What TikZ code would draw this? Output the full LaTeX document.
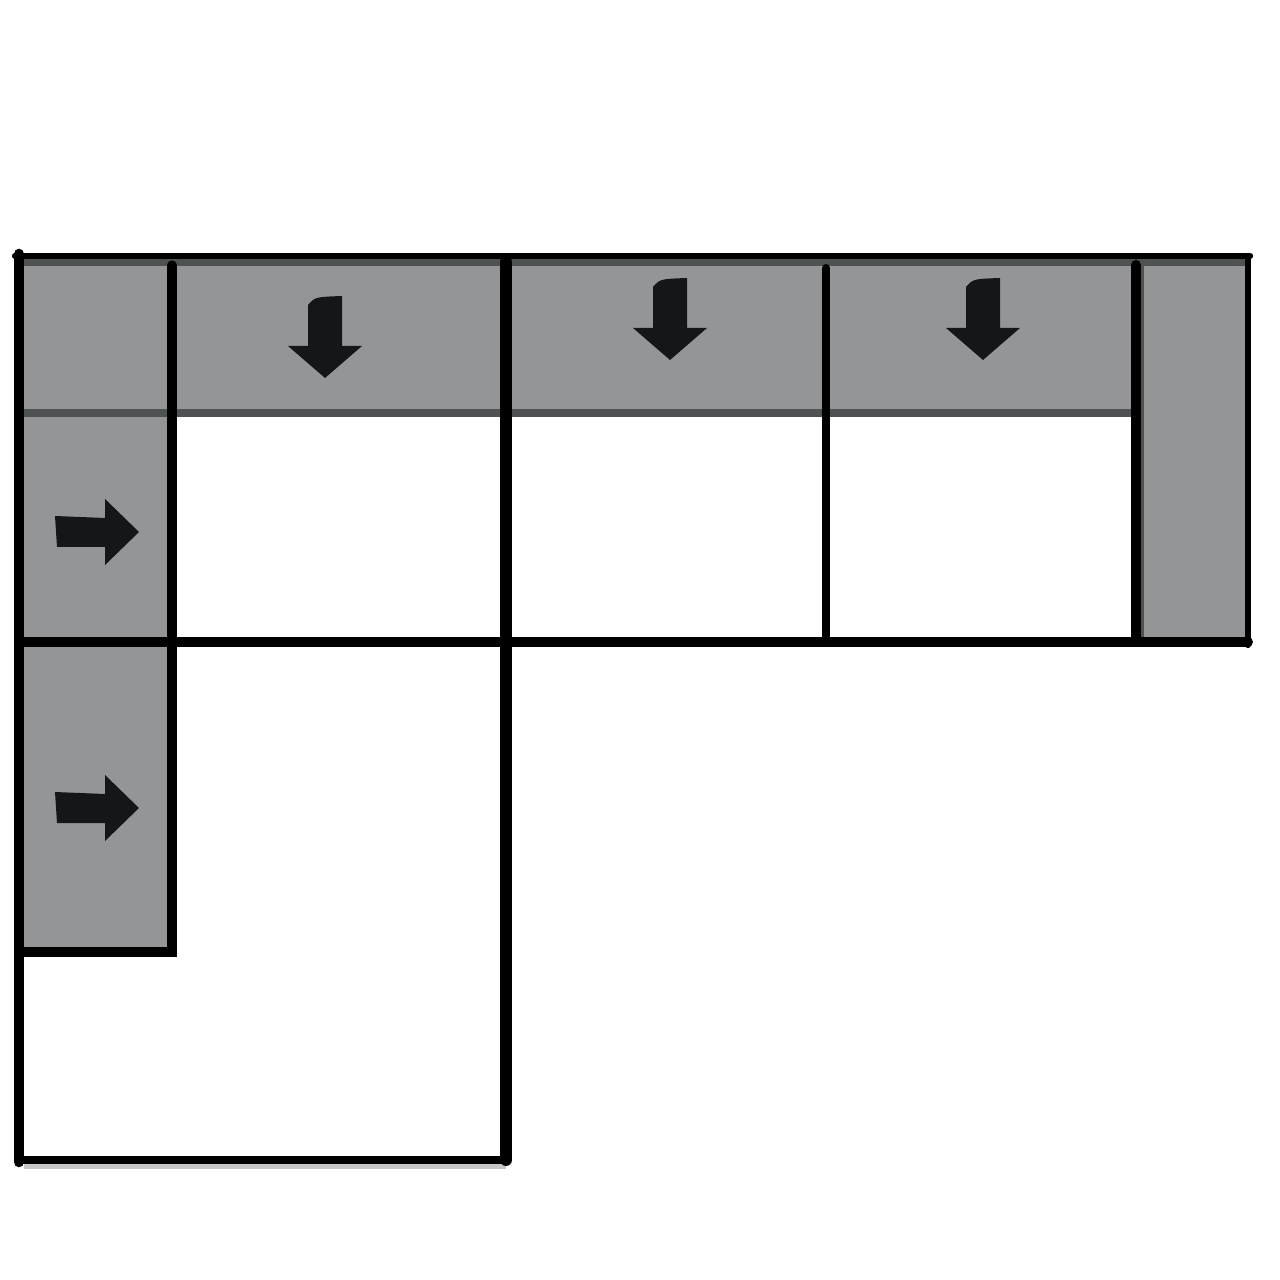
\documentclass[tikz,border=0pt]{standalone}
\usetikzlibrary{positioning}
\definecolor{seatgray}{HTML}{939596}
\definecolor{seamgray}{HTML}{4F5252}
\definecolor{arrowblack}{HTML}{141618}
\begin{document}
\begin{tikzpicture}[
  x=0.01cm, y=-0.01cm,
  SeatFill/.style = {fill=seatgray},
  SeamLine/.style = {draw=seamgray, line width=2pt},
  FrameLine/.style = {draw=black, line width=#1, line cap=round},
  FrameLine/.default = 2.8pt
  ]
  \useasboundingbox (0,0) rectangle (1280,1280);

  \tikzset{ArrowDown/.pic = {\fill[arrowblack] (-17,-33) .. controls (-10,-41) .. (17,-42)
    -- (17,8) -- (37,8) -- (0,40) -- (-37,8) -- (-17,8) -- cycle;}}
  \tikzset{ArrowRight/.pic = {\fill[arrowblack] (-42,-16) -- (8,-14) -- (8,-33) -- (42,0)
    -- (8,33) -- (8,15) -- (-40,15) -- cycle;}}

  \fill[SeatFill] (20,257) rectangle (172,952);
  \fill[SeatFill] (172,257) rectangle (1137,412);
  \fill[SeatFill] (1137,257) rectangle (1248,642);

  \draw[SeamLine] (20,262) -- (1248,262);
  \draw[SeamLine] (20,413) -- (1136,413);
  \draw[SeamLine, line width=1pt] (1142,265) -- (1142,640);
  \draw[gray!45, line width=1.5pt] (24,1166) -- (506,1166);

  \draw[FrameLine=1.8pt] (15,256) -- (1250,256);
  \draw[FrameLine=3pt] (19,254) -- (19,1162);
  \draw[FrameLine=2.6pt] (172,265) -- (172,952) -- (20,952);
  \draw[FrameLine=3.4pt] (506,262) -- (506,1160);
  \draw[FrameLine=2.8pt] (20,642) -- (1248,642);
  \draw[FrameLine=2.3pt] (826,268) -- (826,636);
  \draw[FrameLine=2.9pt] (1136,265) -- (1136,642);
  \draw[FrameLine=1.8pt] (1248,256) -- (1248,645);
  \draw[FrameLine=2pt] (19,1160) -- (506,1160);

  \pic (back1) at (325,338) {ArrowDown};
  \pic (back2) at (670,320) {ArrowDown};
  \pic (back3) at (983,320) {ArrowDown};
  \pic (arm1) at (97,532) {ArrowRight};
  \pic (arm2) at (97,808) {ArrowRight};
\end{tikzpicture}
\end{document}
